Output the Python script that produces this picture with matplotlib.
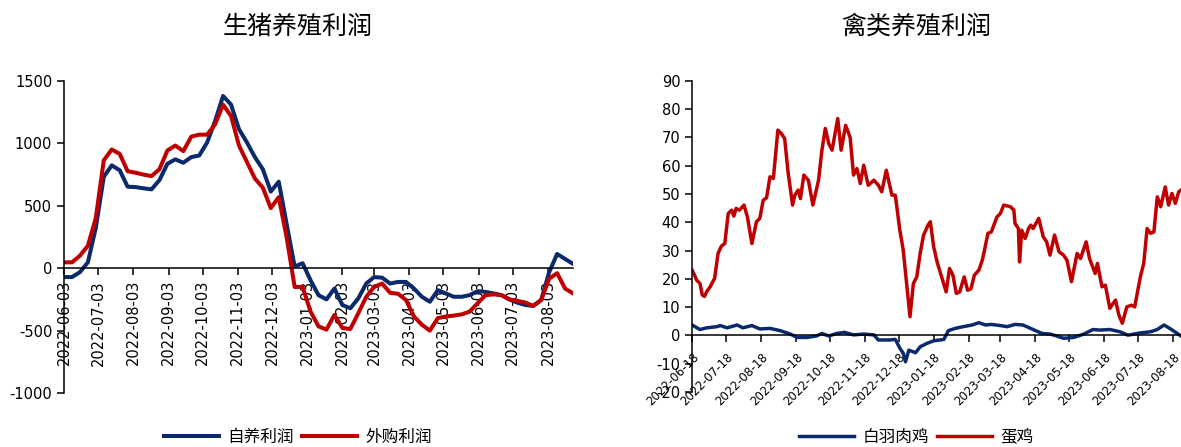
import numpy as np
import pandas as pd
import matplotlib
matplotlib.use("Agg")
import matplotlib.pyplot as plt
import matplotlib.dates as mdates

plt.rcParams['font.family'] = ['DejaVu Sans', 'Noto Sans CJK SC']
plt.rcParams['axes.unicode_minus'] = False

BLUE = '#0b2a6b'
RED = '#c00000'

# ---- 生猪养殖利润: weekly from 2022-06-03 ----
hog_start = '2022-06-03'
self_bred = [-71, -71, -32, 47, 324, 732, 824, 785, 653, 650,
             640, 632, 706, 837, 872, 845, 890, 903, 1008, 1180,
             1380, 1311, 1114, 1008, 890, 793, 614, 693, 351, 13,
             40, -97, -216, -250, -163, -295, -321, -242, -123, -71,
             -76, -123, -110, -110, -163, -229, -269, -176, -202, -229,
             -229, -216, -184, -190, -202, -216, -250, -276, -295, -302,
             -255, -32, 114, 74, 35]
purchased = [47, 47, 100, 180, 403, 864, 951, 916, 777, 765,
             750, 738, 793, 943, 983, 938, 1054, 1070, 1070, 1153,
             1310, 1220, 983, 851, 719, 645, 482, 569, 245, -150,
             -150, -348, -466, -492, -374, -479, -487, -361, -229, -150,
             -123, -197, -205, -255, -387, -453, -500, -400, -387, -380,
             -370, -348, -281, -216, -210, -216, -250, -262, -275, -302,
             -255, -84, -40, -163, -202]

# ---- 禽类养殖利润: days since 2022-06-18 ----
poultry_start = '2022-06-18'
egg_day = [0, 2, 4, 7, 9, 11, 13, 16, 20, 23, 26, 29, 32, 35, 37, 39, 42, 46, 49, 53,
           57, 60, 63, 66, 69, 72, 76, 79, 82, 85, 89, 91, 94, 96, 99, 103, 107, 112, 115, 118,
           121, 124, 129, 132, 136, 140, 143, 146, 149, 152, 156, 161, 165, 168, 172, 177, 180, 184, 187, 190,
           193, 196, 199, 202, 205, 209, 211, 214, 217, 221, 225, 228, 231, 234, 237, 241, 244, 247, 250, 254,
           257, 259, 262, 265, 270, 273, 276, 282, 285, 286, 289, 290, 292, 295, 298, 300, 302, 307, 311, 314,
           317, 321, 325, 329, 332, 336, 341, 344, 349, 352, 357, 359, 363, 366, 370, 375, 378, 381, 385, 389,
           392, 397, 400, 403, 406, 409, 412, 415, 419, 422, 425, 428, 431, 433]
egg = [23.1, 21.5, 19.6, 18.4, 14.3, 13.8, 15.5, 17.2, 20.2, 29.0, 31.6, 32.5, 43.1, 44.3, 42.2, 44.9, 44.3, 46.1, 41.9, 32.5,
       40.2, 41.4, 47.8, 48.7, 56.1, 55.5, 72.6, 71.4, 69.6, 57.8, 46.1, 49.6, 51.4, 48.4, 56.7, 54.9, 46.1, 54.9, 65.5, 73.2,
       67.9, 65.5, 76.7, 65.5, 74.3, 70.0, 56.7, 59.0, 53.7, 60.2, 53.1, 54.9, 53.1, 50.8, 58.4, 49.6, 49.6, 37.2, 30.2, 18.4,
       6.6, 18.4, 20.7, 29.0, 35.5, 39.0, 40.2, 31.3, 26.0, 20.7, 15.4, 23.7, 21.3, 14.9, 15.4, 20.7, 16.0, 16.5, 21.3, 23.1,
       26.6, 30.2, 36.1, 36.6, 41.9, 43.1, 46.1, 45.5, 44.3, 39.6, 37.8, 26.0, 37.2, 34.3, 37.8, 39.0, 37.8, 41.4, 34.9, 33.1,
       28.4, 35.5, 29.6, 28.4, 26.6, 19.0, 29.0, 27.2, 33.1, 27.2, 21.9, 25.5, 17.2, 17.8, 9.6, 12.5, 7.2, 4.3, 10.1, 10.7,
       10.1, 20.7, 25.5, 37.8, 36.1, 36.6, 49.0, 45.5, 52.5, 46.1, 50.2, 46.7, 50.8, 51.4]
broiler_day = [0, 7, 13, 22, 25, 31, 40, 45, 53, 60, 69, 78, 87, 93, 102, 110, 115, 121, 128, 135,
               143, 152, 161, 165, 175, 180, 184, 187, 189, 192, 198, 202, 208, 214, 223, 227, 233, 240, 248, 254,
               260, 265, 273, 279, 286, 293, 302, 310, 317, 323, 329, 338, 347, 355, 361, 370, 379, 386, 397, 406,
               412, 418, 423, 429, 433]
broiler = [3.7, 2.1, 2.7, 3.1, 3.5, 2.7, 3.7, 2.7, 3.5, 2.3, 2.5, 1.7, 0.5, -0.7, -0.7, -0.2, 0.7, -0.2, 0.7, 1.1,
           0.2, 0.5, 0.2, -1.6, -1.6, -1.4, -4.5, -6.3, -9.3, -5.2, -6.1, -4.0, -2.8, -1.9, -1.4, 1.7, 2.5, 3.1, 3.7, 4.5,
           3.7, 3.9, 3.5, 3.1, 3.9, 3.7, 2.1, 0.7, 0.5, -0.2, -1.0, -0.7, 0.5, 2.1, 1.9, 2.1, 1.3, 0.1, 0.9, 1.3,
           2.1, 3.7, 2.5, 0.9, -0.2]

hog_dates = pd.date_range(hog_start, periods=len(self_bred), freq='7D')
t0 = pd.Timestamp(poultry_start)
egg_dates = t0 + pd.to_timedelta(egg_day, unit='D')
broiler_dates = t0 + pd.to_timedelta(broiler_day, unit='D')

fig = plt.figure(figsize=(11.81, 4.47), dpi=100)


def style_axes(ax):
    for s in ['top', 'right']:
        ax.spines[s].set_visible(False)
    ax.spines['bottom'].set_position(('data', 0))
    ax.spines['left'].set_linewidth(1.1)
    ax.spines['bottom'].set_linewidth(1.1)
    ax.tick_params(direction='out', length=5, width=1.1, labelsize=10.5, colors='black')


cjk = dict(family='Noto Sans CJK SC', weight='light')

# left: hog profit
ax1 = fig.add_axes([0.0542, 0.1208, 0.431, 0.698])
ax1.plot(hog_dates, self_bred, color=BLUE, lw=2.9, label='自养利润')
ax1.plot(hog_dates, purchased, color=RED, lw=2.9, label='外购利润')
style_axes(ax1)
ax1.set_ylim(-1000, 1500)
ax1.set_yticks(np.arange(-1000, 1501, 500))
ax1.set_xlim(hog_dates[0], hog_dates[-1])
ax1.set_xticks([pd.Timestamp(hog_start) + pd.DateOffset(months=i) for i in range(15)])
ax1.xaxis.set_major_formatter(mdates.DateFormatter('%Y-%m-%d'))
plt.setp(ax1.get_xticklabels(), rotation=90, fontsize=10.5)
ax1.legend(loc='center', bbox_to_anchor=(0.252, 0.022), bbox_transform=fig.transFigure,
           ncol=2, frameon=False, prop=dict(cjk, size=12), handlelength=3.3, handletextpad=0.5,
           columnspacing=0.5, borderaxespad=0)
fig.text(0.252, 0.94, '生猪养殖利润', ha='center', va='center', fontsize=18, **cjk)

# right: poultry profit
ax2 = fig.add_axes([0.586, 0.123, 0.414, 0.696])
ax2.plot(broiler_dates, broiler, color=BLUE, lw=2.5, label='白羽肉鸡')
ax2.plot(egg_dates, egg, color=RED, lw=2.5, label='蛋鸡')
style_axes(ax2)
ax2.set_ylim(-20, 90)
ax2.set_yticks(np.arange(-20, 91, 10))
ax2.set_xlim(t0, egg_dates[-1])
ax2.set_xticks([t0 + pd.DateOffset(months=i) for i in range(15)])
ax2.xaxis.set_major_formatter(mdates.DateFormatter('%Y-%m-%d'))
ax2.tick_params(axis='x', pad=6)
plt.setp(ax2.get_xticklabels(), rotation=45, ha='right', rotation_mode='anchor', fontsize=8.5)
ax2.legend(loc='center', bbox_to_anchor=(0.776, 0.022), bbox_transform=fig.transFigure,
           ncol=2, frameon=False, prop=dict(cjk, size=12), handlelength=3.3, handletextpad=0.5,
           columnspacing=0.5, borderaxespad=0)
fig.text(0.776, 0.94, '禽类养殖利润', ha='center', va='center', fontsize=18, **cjk)

fig.savefig('out.png', dpi=100)
